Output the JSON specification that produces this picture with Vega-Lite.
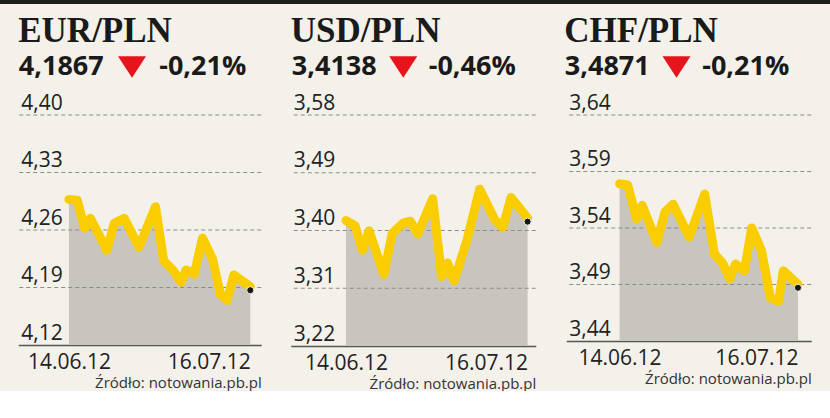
{
  "$schema": "https://vega.github.io/schema/vega-lite/v6.json",
  "background": "#f3f1ea",
  "padding": 0,
  "config": {"view": {"stroke": null}},
  "datasets": {
    "eur": [
      {"t": 0, "rate": 4.293}, {"t": 1.0, "rate": 4.292}, {"t": 1.9, "rate": 4.258}, {"t": 2.6, "rate": 4.270},
      {"t": 4.6, "rate": 4.231}, {"t": 5.5, "rate": 4.264}, {"t": 6.7, "rate": 4.270}, {"t": 8.5, "rate": 4.235},
      {"t": 10.5, "rate": 4.284}, {"t": 11.5, "rate": 4.218}, {"t": 12.6, "rate": 4.207}, {"t": 13.6, "rate": 4.192},
      {"t": 14.2, "rate": 4.207}, {"t": 15.2, "rate": 4.202}, {"t": 16.2, "rate": 4.246}, {"t": 17.4, "rate": 4.221},
      {"t": 18.4, "rate": 4.177}, {"t": 19.2, "rate": 4.170}, {"t": 20.0, "rate": 4.201}, {"t": 22, "rate": 4.1867}
    ],
    "usd": [
      {"t": 0, "rate": 3.410}, {"t": 1.1, "rate": 3.402}, {"t": 2.0, "rate": 3.364}, {"t": 2.8, "rate": 3.394},
      {"t": 4.6, "rate": 3.326}, {"t": 5.6, "rate": 3.390}, {"t": 6.9, "rate": 3.406}, {"t": 7.8, "rate": 3.409},
      {"t": 8.7, "rate": 3.389}, {"t": 10.5, "rate": 3.444}, {"t": 11.6, "rate": 3.323}, {"t": 12.3, "rate": 3.344},
      {"t": 13.1, "rate": 3.316}, {"t": 14.7, "rate": 3.381}, {"t": 16.2, "rate": 3.459}, {"t": 18.0, "rate": 3.412},
      {"t": 19.0, "rate": 3.399}, {"t": 20.0, "rate": 3.446}, {"t": 22, "rate": 3.4138}
    ],
    "chf": [
      {"t": 0, "rate": 3.576}, {"t": 1.0, "rate": 3.575}, {"t": 2.1, "rate": 3.545}, {"t": 2.8, "rate": 3.557},
      {"t": 4.6, "rate": 3.524}, {"t": 5.6, "rate": 3.551}, {"t": 6.6, "rate": 3.558}, {"t": 8.6, "rate": 3.529},
      {"t": 10.5, "rate": 3.567}, {"t": 11.7, "rate": 3.514}, {"t": 12.7, "rate": 3.506}, {"t": 13.6, "rate": 3.492},
      {"t": 14.3, "rate": 3.505}, {"t": 15.4, "rate": 3.499}, {"t": 16.3, "rate": 3.537}, {"t": 17.5, "rate": 3.517},
      {"t": 18.6, "rate": 3.475}, {"t": 19.6, "rate": 3.472}, {"t": 20.2, "rate": 3.499}, {"t": 22, "rate": 3.4871}
    ]
  },
  "center": true,
  "spacing": 10,
  "vconcat": [
    {
      "width": 830, "height": 4,
      "view": {"fill": "#1d1d1b", "stroke": null},
      "data": {"values": []},
      "mark": "rect",
      "encoding": {}
    },
    {
      "spacing": 27.5,
      "hconcat": [
        {
          "spacing": 5,
          "vconcat": [
            {
              "width": 243, "height": 40,
              "title": {"text": "EUR/PLN", "font": "Liberation Serif", "fontSize": 35, "fontWeight": "bold", "color": "#1a1a1a", "anchor": "start", "frame": "group", "baseline": "alphabetic", "offset": -30},
              "data": {"values": [{"part": "value", "label": "4,1867"}, {"part": "arrow", "label": ""}, {"part": "change", "label": "-0,21%"}]},
              "encoding": {"x": {"field": "part", "type": "nominal", "sort": null, "scale": {"type": "point", "padding": 0, "domain": ["value", "arrow", "change"], "range": [43, 184.5]}, "axis": null}},
              "layer": [
                {"transform": [{"filter": "datum.part != 'arrow'"}], "mark": {"type": "text", "font": "Open Sans", "fontWeight": "bold", "fontSize": 27, "color": "#1a1a1a", "baseline": "middle"}, "encoding": {"text": {"field": "label"}}},
                {"transform": [{"filter": "datum.part == 'arrow'"}], "mark": {"type": "point", "shape": "M-1,-0.77L1,-0.77L0,0.77Z", "filled": true, "size": 784, "color": "#e8141c", "opacity": 1}}
              ]
            },
            {
              "width": 243, "height": 230,
              "data": {"name": "eur"},
              "layer": [
                {
                  "mark": {"type": "area", "color": "#c8c5bf"},
                  "encoding": {
                    "x": {"field": "t", "type": "quantitative", "scale": {"domain": [-6.15, 23.33], "nice": false, "zero": false},
                      "axis": {"values": [0, 22], "labelExpr": "datum.value == 0 ? '14.06.12' : '16.07.12'", "labelAlign": {"condition": {"test": "datum.value > 0", "value": "right"}, "value": "center"}, "ticks": false, "grid": false, "domainColor": "#555", "domainWidth": 1.5, "labelFont": "Open Sans", "labelFontSize": 21, "labelColor": "#222", "labelPadding": 6, "labelOverlap": false, "labelFlush": false, "title": "Źródło: notowania.pb.pl", "titleFont": "Open Sans", "titleFontSize": 15, "titleFontWeight": "normal", "titleColor": "#333", "titleAnchor": "end", "titlePadding": 3}},
                    "y": {"field": "rate", "type": "quantitative", "scale": {"domain": [4.12, 4.40], "nice": false, "zero": false},
                      "axis": {"values": [4.12, 4.19, 4.26, 4.33, 4.40], "labelExpr": "replace(format(datum.value, '.2f'), '.', ',')", "domain": false, "ticks": false, "tickSize": 0, "grid": false, "labelAlign": "left", "labelBaseline": "alphabetic", "labelPadding": -2.5, "labelOffset": -6, "labelFont": "Open Sans", "labelFontSize": 21, "labelColor": "#222", "title": null}},
                    "y2": {"datum": 4.12}
                  }
                },
                {
                  "data": {"values": [{"tick": 4.19}, {"tick": 4.26}, {"tick": 4.33}, {"tick": 4.40}]},
                  "mark": {"type": "rule", "color": "#8c8c8c", "strokeDash": [4, 3], "strokeWidth": 1},
                  "encoding": {"y": {"field": "tick", "type": "quantitative"}}
                },
                {
                  "mark": {"type": "line", "color": "#f9cd00", "strokeWidth": 9, "strokeCap": "round", "strokeJoin": "round", "yOffset": -3.5},
                  "encoding": {"x": {"field": "t", "type": "quantitative"}, "y": {"field": "rate", "type": "quantitative"}}
                },
                {
                  "transform": [{"filter": "datum.t == 22"}],
                  "mark": {"type": "point", "filled": true, "color": "#151515", "size": 50, "stroke": "#f3f0dc", "strokeWidth": 1, "opacity": 1},
                  "encoding": {"x": {"field": "t", "type": "quantitative"}, "y": {"field": "rate", "type": "quantitative"}}
                }
              ]
            }
          ]
        },
        {
          "spacing": 5,
          "vconcat": [
            {
              "width": 245, "height": 40,
              "title": {"text": "USD/PLN", "font": "Liberation Serif", "fontSize": 35, "fontWeight": "bold", "color": "#1a1a1a", "anchor": "start", "frame": "group", "baseline": "alphabetic", "offset": -30},
              "data": {"values": [{"part": "value", "label": "3,4138"}, {"part": "arrow", "label": ""}, {"part": "change", "label": "-0,46%"}]},
              "encoding": {"x": {"field": "part", "type": "nominal", "sort": null, "scale": {"type": "point", "padding": 0, "domain": ["value", "arrow", "change"], "range": [43.5, 181.5]}, "axis": null}},
              "layer": [
                {"transform": [{"filter": "datum.part != 'arrow'"}], "mark": {"type": "text", "font": "Open Sans", "fontWeight": "bold", "fontSize": 27, "color": "#1a1a1a", "baseline": "middle"}, "encoding": {"text": {"field": "label"}}},
                {"transform": [{"filter": "datum.part == 'arrow'"}], "mark": {"type": "point", "shape": "M-1,-0.77L1,-0.77L0,0.77Z", "filled": true, "size": 784, "color": "#e8141c", "opacity": 1}}
              ]
            },
            {
              "width": 245, "height": 231,
              "data": {"name": "usd"},
              "layer": [
                {
                  "mark": {"type": "area", "color": "#c8c5bf"},
                  "encoding": {
                    "x": {"field": "t", "type": "quantitative", "scale": {"domain": [-6.69, 22.99], "nice": false, "zero": false},
                      "axis": {"values": [0, 22], "labelExpr": "datum.value == 0 ? '14.06.12' : '16.07.12'", "labelAlign": {"condition": {"test": "datum.value > 0", "value": "right"}, "value": "center"}, "ticks": false, "grid": false, "domainColor": "#555", "domainWidth": 1.5, "labelFont": "Open Sans", "labelFontSize": 21, "labelColor": "#222", "labelPadding": 6, "labelOverlap": false, "labelFlush": false, "title": "Źródło: notowania.pb.pl", "titleFont": "Open Sans", "titleFontSize": 15, "titleFontWeight": "normal", "titleColor": "#333", "titleAnchor": "end", "titlePadding": 3}},
                    "y": {"field": "rate", "type": "quantitative", "scale": {"domain": [3.22, 3.58], "nice": false, "zero": false},
                      "axis": {"values": [3.22, 3.31, 3.40, 3.49, 3.58], "labelExpr": "replace(format(datum.value, '.2f'), '.', ',')", "domain": false, "ticks": false, "tickSize": 0, "grid": false, "labelAlign": "left", "labelBaseline": "alphabetic", "labelPadding": -2.5, "labelOffset": -6, "labelFont": "Open Sans", "labelFontSize": 21, "labelColor": "#222", "title": null}},
                    "y2": {"datum": 3.22}
                  }
                },
                {
                  "data": {"values": [{"tick": 3.31}, {"tick": 3.40}, {"tick": 3.49}, {"tick": 3.58}]},
                  "mark": {"type": "rule", "color": "#8c8c8c", "strokeDash": [4, 3], "strokeWidth": 1},
                  "encoding": {"y": {"field": "tick", "type": "quantitative"}}
                },
                {
                  "mark": {"type": "line", "color": "#f9cd00", "strokeWidth": 9, "strokeCap": "round", "strokeJoin": "round", "yOffset": -3.5},
                  "encoding": {"x": {"field": "t", "type": "quantitative"}, "y": {"field": "rate", "type": "quantitative"}}
                },
                {
                  "transform": [{"filter": "datum.t == 22"}],
                  "mark": {"type": "point", "filled": true, "color": "#151515", "size": 50, "stroke": "#f3f0dc", "strokeWidth": 1, "opacity": 1},
                  "encoding": {"x": {"field": "t", "type": "quantitative"}, "y": {"field": "rate", "type": "quantitative"}}
                }
              ]
            }
          ]
        },
        {
          "spacing": 5,
          "vconcat": [
            {
              "width": 245, "height": 40,
              "title": {"text": "CHF/PLN", "font": "Liberation Serif", "fontSize": 35, "fontWeight": "bold", "color": "#1a1a1a", "anchor": "start", "frame": "group", "baseline": "alphabetic", "offset": -30, "dx": -2},
              "data": {"values": [{"part": "value", "label": "3,4871"}, {"part": "arrow", "label": ""}, {"part": "change", "label": "-0,21%"}]},
              "encoding": {"x": {"field": "part", "type": "nominal", "sort": null, "scale": {"type": "point", "padding": 0, "domain": ["value", "arrow", "change"], "range": [41, 179.5]}, "axis": null}},
              "layer": [
                {"transform": [{"filter": "datum.part != 'arrow'"}], "mark": {"type": "text", "font": "Open Sans", "fontWeight": "bold", "fontSize": 27, "color": "#1a1a1a", "baseline": "middle"}, "encoding": {"text": {"field": "label"}}},
                {"transform": [{"filter": "datum.part == 'arrow'"}], "mark": {"type": "point", "shape": "M-1,-0.77L1,-0.77L0,0.77Z", "filled": true, "size": 784, "color": "#e8141c", "opacity": 1}}
              ]
            },
            {
              "width": 245, "height": 226,
              "data": {"name": "chf"},
              "layer": [
                {
                  "mark": {"type": "area", "color": "#c8c5bf"},
                  "encoding": {
                    "x": {"field": "t", "type": "quantitative", "scale": {"domain": [-6.57, 23.64], "nice": false, "zero": false},
                      "axis": {"values": [0, 22], "labelExpr": "datum.value == 0 ? '14.06.12' : '16.07.12'", "labelAlign": {"condition": {"test": "datum.value > 0", "value": "right"}, "value": "center"}, "ticks": false, "grid": false, "domainColor": "#555", "domainWidth": 1.5, "labelFont": "Open Sans", "labelFontSize": 21, "labelColor": "#222", "labelPadding": 6, "labelOverlap": false, "labelFlush": false, "title": "Źródło: notowania.pb.pl", "titleFont": "Open Sans", "titleFontSize": 15, "titleFontWeight": "normal", "titleColor": "#333", "titleAnchor": "end", "titlePadding": 3}},
                    "y": {"field": "rate", "type": "quantitative", "scale": {"domain": [3.44, 3.64], "nice": false, "zero": false},
                      "axis": {"values": [3.44, 3.49, 3.54, 3.59, 3.64], "labelExpr": "replace(format(datum.value, '.2f'), '.', ',')", "domain": false, "ticks": false, "tickSize": 0, "grid": false, "labelAlign": "left", "labelBaseline": "alphabetic", "labelPadding": -2.5, "labelOffset": -6, "labelFont": "Open Sans", "labelFontSize": 21, "labelColor": "#222", "title": null}},
                    "y2": {"datum": 3.44}
                  }
                },
                {
                  "data": {"values": [{"tick": 3.49}, {"tick": 3.54}, {"tick": 3.59}, {"tick": 3.64}]},
                  "mark": {"type": "rule", "color": "#8c8c8c", "strokeDash": [4, 3], "strokeWidth": 1},
                  "encoding": {"y": {"field": "tick", "type": "quantitative"}}
                },
                {
                  "mark": {"type": "line", "color": "#f9cd00", "strokeWidth": 9, "strokeCap": "round", "strokeJoin": "round", "yOffset": -3.5},
                  "encoding": {"x": {"field": "t", "type": "quantitative"}, "y": {"field": "rate", "type": "quantitative"}}
                },
                {
                  "transform": [{"filter": "datum.t == 22"}],
                  "mark": {"type": "point", "filled": true, "color": "#151515", "size": 50, "stroke": "#f3f0dc", "strokeWidth": 1, "opacity": 1},
                  "encoding": {"x": {"field": "t", "type": "quantitative"}, "y": {"field": "rate", "type": "quantitative"}}
                }
              ]
            }
          ]
        }
      ]
    }
  ]
}
